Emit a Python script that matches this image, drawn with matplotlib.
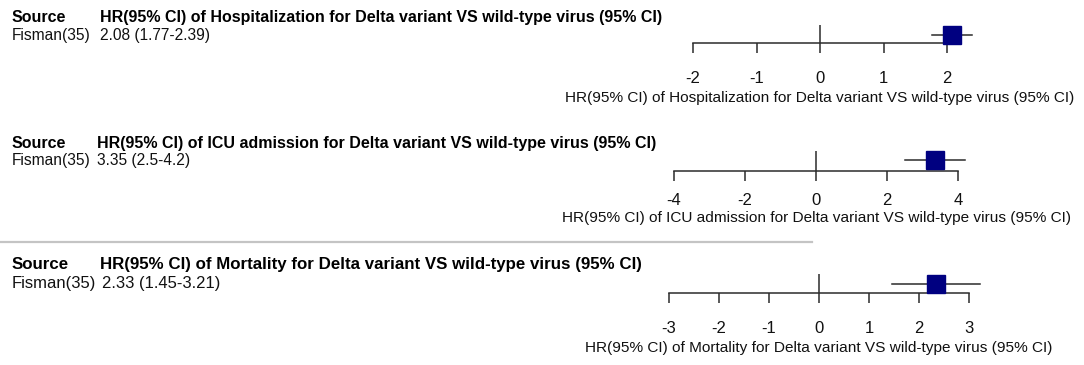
import matplotlib
matplotlib.use('Agg')
from matplotlib import pyplot as plt

plt.rcParams['font.family'] = ['Liberation Sans', 'DejaVu Sans']

# data
outcomes = ['Hospitalization', 'ICU admission', 'Mortality']
source = 'Fisman(35)'
hr = [2.08, 3.35, 2.33]
ci_low = [1.77, 2.5, 1.45]
ci_high = [2.39, 4.2, 3.21]
ci_text = ['2.08 (1.77-2.39)', '3.35 (2.5-4.2)', '2.33 (1.45-3.21)']
tick_sets = [[-2, -1, 0, 1, 2], [-4, -2, 0, 2, 4], [-3, -2, -1, 0, 1, 2, 3]]

W, H = 1084, 365
fig = plt.figure(figsize=(W / 100, H / 100), dpi=100)

def fx(px):
    return px / W

def fy(py):
    return 1 - py / H

# layout per panel (pixels): axis left/right, axis line y, zero line top, box y,
# header baseline, row baseline, tick pad, xlabel baseline, text x, text sizes
panels = [
    dict(x0=693, x1=947, ay=43, top=25, by=35, hy=22, ry=40, pad=13, ly=102, tx=100, rx=100, fs=11.5, rs=11.2),
    dict(x0=674, x1=958, ay=171, top=151, by=160, hy=148, ry=165, pad=8.5, ly=222, tx=97, rx=97, fs=11.5, rs=11.2),
    dict(x0=669, x1=969, ay=293, top=274, by=284, hy=269, ry=288, pad=13, ly=352, tx=100, rx=102, fs=12.2, rs=12.0),
]

line_col = '#2b2b2b'
box_col = '#000080'
txt_col = '#111111'

for i, p in enumerate(panels):
    ticks = tick_sets[i]
    ax = fig.add_axes([fx(p['x0']), fy(p['ay']), fx(p['x1'] - p['x0']), (p['ay'] - p['top']) / H])
    ax.set_xlim(ticks[0], ticks[-1])
    below = p['ay'] - p['by']
    above = p['by'] - p['top']
    ax.set_ylim(-below, above)
    ax.patch.set_alpha(0)
    for s in ['left', 'right', 'top']:
        ax.spines[s].set_visible(False)
    ax.spines['bottom'].set_color(line_col)
    ax.spines['bottom'].set_linewidth(1.1)
    ax.set_yticks([])
    ax.set_xticks(ticks)
    ax.set_xticklabels([str(t) for t in ticks])
    ax.tick_params(axis='x', direction='out', length=7.2, width=1.1, color=line_col,
                   pad=p['pad'], labelsize=12, labelcolor=txt_col)
    ax.axvline(0, color=line_col, lw=1.1)
    ax.plot([ci_low[i], ci_high[i]], [0, 0], color=line_col, lw=1.1, clip_on=False, zorder=2)
    ax.plot(hr[i], 0, marker='s', ms=12.3, color=box_col, mec=box_col, clip_on=False, zorder=3)

    title = 'HR(95% CI) of ' + outcomes[i] + ' for Delta variant VS wild-type virus (95% CI)'
    fig.text(fx(12), fy(p['hy']), 'Source', fontsize=p['fs'], fontweight='bold', va='baseline')
    fig.text(fx(p['tx']), fy(p['hy']), title, fontsize=p['fs'], fontweight='bold', va='baseline')
    fig.text(fx(12), fy(p['ry']), source, fontsize=p['rs'], va='baseline', color=txt_col)
    fig.text(fx(p['rx']), fy(p['ry']), ci_text[i], fontsize=p['rs'], va='baseline', color=txt_col)
    mid = (p['x0'] + p['x1']) / 2
    fig.text(fx(mid), fy(p['ly']), title, fontsize=11.1, ha='center', va='baseline', color=txt_col)

# separator line above the last panel
fig.add_artist(plt.Line2D([0, fx(812)], [fy(242), fy(242)], color='#c4c4c4', lw=1.6))

fig.savefig('out.png', dpi=100)
